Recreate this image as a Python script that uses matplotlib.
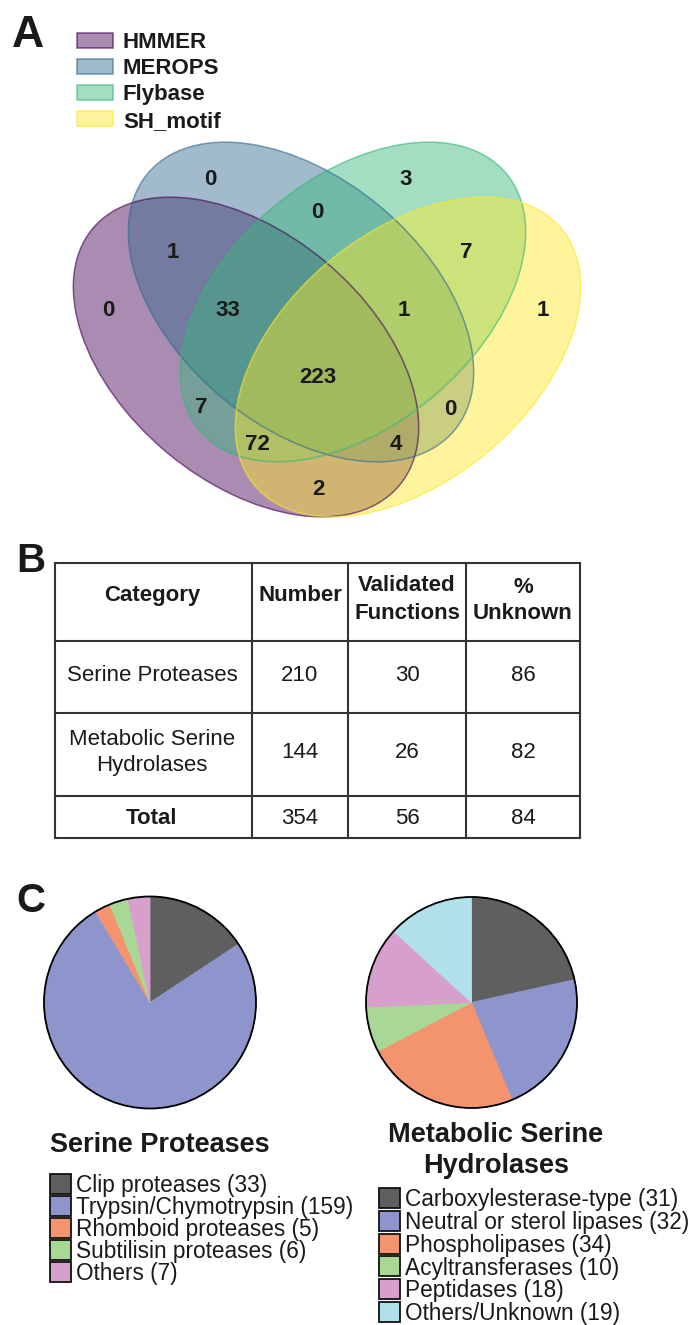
import matplotlib
matplotlib.use('Agg')
import matplotlib.pyplot as plt
from matplotlib.patches import Ellipse, Rectangle, Circle

plt.rcParams['font.family'] = ['Liberation Sans', 'DejaVu Sans']

# --- panel A: four-way overlap of the search methods ---
set_names = ['HMMER', 'MEROPS', 'Flybase', 'SH_motif']
set_colors = ['#440154', '#31688E', '#35B779', '#FDE725']

# region -> sets it belongs to (H=HMMER, M=MEROPS, F=Flybase, S=SH_motif)
region_keys = ['H', 'M', 'F', 'S', 'HM', 'MF', 'FS', 'HF', 'MS', 'HS',
               'HMF', 'MFS', 'HFS', 'HMS', 'HMFS']
region_counts = [0, 0, 3, 1, 1, 0, 7, 7, 0, 2, 33, 1, 72, 4, 223]

# --- panel B: summary table ---
table_header = ['Category', 'Number', 'Validated\nFunctions', '%\nUnknown']
table_categories = ['Serine Proteases', 'Metabolic Serine\nHydrolases', 'Total']
table_number = [210, 144, 354]
table_validated = [30, 26, 56]
table_unknown = [86, 82, 84]

# --- panel C: class breakdown ---
sp_labels = ['Clip proteases', 'Trypsin/Chymotrypsin', 'Rhomboid proteases',
             'Subtilisin proteases', 'Others']
sp_counts = [33, 159, 5, 6, 7]
msh_labels = ['Carboxylesterase-type', 'Neutral or sterol lipases', 'Phospholipases',
              'Acyltransferases', 'Peptidases', 'Others/Unknown']
msh_counts = [31, 32, 34, 10, 18, 19]
pie_colors = ['#5f5f5f', '#8d95cc', '#f4946f', '#a8d796', '#d7a0cc', '#b0e0ea']

W, H = 688, 1325
fig = plt.figure(figsize=(W / 100, H / 100), dpi=100)
ax = fig.add_axes([0, 0, 1, 1])
ax.set_xlim(0, W)
ax.set_ylim(H, 0)
ax.axis('off')


def put(x, y, s, size, weight='normal', ha='center', step=0):
    # y is the vertical middle of the capitals of the first line (pixels);
    # further lines go 'step' pixels apart
    for k, line in enumerate(s.split('\n')):
        ax.text(x, y + k * step + size * 100 / 72 * 0.36, line, fontsize=size,
                fontweight=weight, ha=ha, va='baseline', color='#1a1a1a')


# panel letters
put(28, 31, 'A', 32, 'bold')
put(31, 558, 'B', 29, 'bold')
put(31, 897, 'C', 29, 'bold')

# venn legend
for i, (name, col) in enumerate(zip(set_names, set_colors)):
    y = 40 + i * 26.2
    ax.add_patch(Rectangle((77, y - 7.5), 36, 15, facecolor=col, alpha=0.45,
                           edgecolor='none'))
    ax.add_patch(Rectangle((77, y - 7.5), 36, 15, facecolor='none', edgecolor=col,
                           alpha=0.6, lw=1.2))
    put(123, y, name, 16, 'bold', ha='left')

# venn ellipses
centers = [(246, 357), (301, 302), (353, 302), (408, 357)]
angles = [40, 40, -40, -40]
for (cx, cy), ang, col in zip(centers, angles, set_colors):
    ax.add_patch(Ellipse((cx, cy), 400, 248, angle=ang, facecolor=col, alpha=0.45,
                         edgecolor='none'))
for (cx, cy), ang, col in zip(centers, angles, set_colors):
    ax.add_patch(Ellipse((cx, cy), 400, 248, angle=ang, facecolor='none',
                         edgecolor=col, alpha=0.6, lw=1.1))

label_pos = {'H': (108, 308), 'M': (210, 177), 'F': (406, 177), 'S': (543, 308),
             'HM': (173, 250), 'MF': (317, 210), 'FS': (466, 250),
             'HF': (201, 405), 'MS': (450, 407), 'HS': (318, 487),
             'HMF': (228, 308), 'MFS': (404, 308), 'HFS': (257, 442),
             'HMS': (396, 442), 'HMFS': (318, 375)}
for key, n in zip(region_keys, region_counts):
    x, y = label_pos[key]
    put(x, y, str(n), 16, 'bold')

# table grid
col_edges = [55, 252, 348, 466, 580]
row_edges = [563, 641, 713, 796, 838]
for y in row_edges:
    ax.plot([col_edges[0], col_edges[-1]], [y, y], color='#333333', lw=1.5,
            solid_capstyle='projecting')
for x in col_edges:
    ax.plot([x, x], [row_edges[0], row_edges[-1]], color='#333333', lw=1.5,
            solid_capstyle='projecting')

col_mid = [(a + b) / 2 for a, b in zip(col_edges[:-1], col_edges[1:])]
col_mid[0] = 152
put(col_mid[0], 593, table_header[0], 16, 'bold')
put(col_mid[1], 593, table_header[1], 16, 'bold')
put(col_mid[2], 583, table_header[2], 16, 'bold', step=28)
put(col_mid[3], 585, table_header[3], 16, 'bold', step=26)

row_y = [673, 737, 816]
for i, cat in enumerate(table_categories):
    w = 'bold' if cat == 'Total' else 'normal'
    put(col_mid[0], row_y[i], cat, 16, w, step=26)
    yv = 750 if i == 1 else row_y[i]
    put(col_mid[1], yv, str(table_number[i]), 16)
    put(col_mid[2], yv, str(table_validated[i]), 16)
    put(col_mid[3], yv, str(table_unknown[i]), 16)


# pies
def pie_at(cx, cy, r, counts):
    s = r * 1.25
    pax = fig.add_axes([(cx - s) / W, 1 - (cy + s) / H, 2 * s / W, 2 * s / H])
    wedges, _ = pax.pie(counts, colors=pie_colors[:len(counts)], startangle=90,
                        counterclock=False)
    for wdg in wedges:
        wdg.set_edgecolor(wdg.get_facecolor())
        wdg.set_linewidth(0.6)
    pax.add_patch(Circle((0, 0), 1, fill=False, edgecolor='black', lw=1.3))
    pax.set_xlim(-1.25, 1.25)
    pax.set_ylim(-1.25, 1.25)
    return pax


pie_at(150, 1002.5, 106, sp_counts)
pie_at(471.5, 1002.5, 105.5, msh_counts)

put(160, 1142, 'Serine Proteases', 19.5, 'bold')
put(496, 1132, 'Metabolic Serine\nHydrolases', 19.5, 'bold', step=31)


def legend_at(x, y0, step, labels, counts):
    for i, (lab, n) in enumerate(zip(labels, counts)):
        y = y0 + i * step
        ax.add_patch(Rectangle((x, y - 10), 21, 20, facecolor=pie_colors[i],
                               edgecolor='#111111', lw=1.3))
        put(x + 26, y, f'{lab} ({n})', 16.3, ha='left')


legend_at(49.5, 1184, 22.0, sp_labels, sp_counts)
legend_at(379, 1198, 22.8, msh_labels, msh_counts)

fig.savefig('out.png', dpi=100, facecolor='white')
